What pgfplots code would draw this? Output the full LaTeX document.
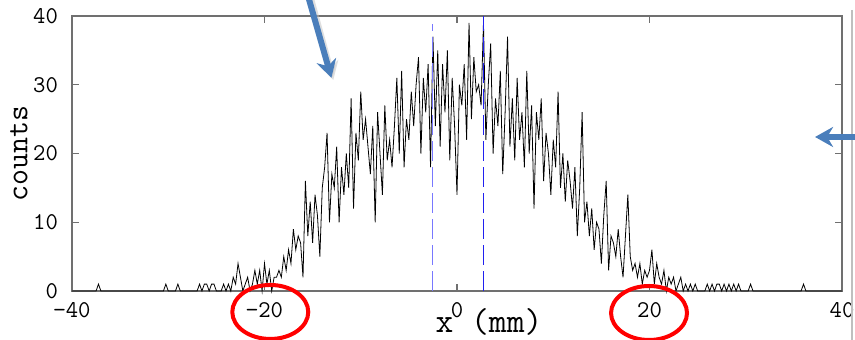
\documentclass[border=0pt]{standalone}
\usepackage{pgfplots}
\pgfplotsset{compat=1.18}
\usetikzlibrary{arrows.meta}
\definecolor{axgray}{HTML}{707070}
\definecolor{dashA}{HTML}{7878FF}
\definecolor{dashB}{HTML}{2020F0}
\definecolor{arrowblue}{HTML}{4A7EBB}
\begin{document}
\begin{tikzpicture}
\begin{axis}[
  name=ax, at={(0,0)}, anchor=south west,
  scale only axis, width=385pt, height=137.5pt,
  xmin=-40, xmax=40, ymin=0, ymax=40,
  xtick={-40,-20,0,20,40},
  xticklabels={−40,−20,0,20,40},
  ytick={0,10,20,30,40},
  yticklabels={0,10,20,30,40},
  tick align=inside, major tick length=3.5pt,
  axis line style={axgray, line width=0.6pt},
  every tick/.style={axgray, line width=0.6pt},
  tick label style={font=\large\ttfamily},
  xticklabel style={yshift=-2pt},
  yticklabel style={xshift=-3.5pt},
  clip=false,
]
\addplot[black, line width=0.4pt] coordinates {
(-40,0) (-37.5,0) (-37.25,1) (-37,0) (-30.5,0) (-30.25,1) (-30,0) (-29.25,0) (-29,1) (-28.75,0)
(-27,0) (-26.75,1) (-26.5,0) (-26.25,1) (-26,1) (-25.75,0) (-25.5,1) (-25.25,1) (-25,0) (-24.5,0) (-24.25,1)
(-24.00,0) (-23.75,1) (-23.50,0) (-23.25,2) (-23.00,1) (-22.75,4) (-22.50,2) (-22.25,0) (-22.00,1) (-21.75,2)
(-21.50,0) (-21.25,1) (-21.00,3) (-20.75,1) (-20.50,3) (-20.25,0) (-20.00,4) (-19.75,1) (-19.50,3) (-19.25,0)
(-19.00,2) (-18.75,2) (-18.50,3) (-18.25,2) (-18.00,5) (-17.75,3) (-17.50,6) (-17.25,4) (-17.00,9) (-16.75,6)
(-16.50,8) (-16.25,7) (-16.00,2) (-15.75,16) (-15.50,8) (-15.25,13) (-15.00,7) (-14.75,14) (-14.50,11) (-14.25,5)
(-14.00,15) (-13.75,18) (-13.50,23) (-13.25,10) (-13.00,17) (-12.75,15) (-12.50,21) (-12.25,10) (-12.00,18) (-11.75,14)
(-11.50,20) (-11.25,15) (-11.00,28) (-10.75,12) (-10.50,23) (-10.25,19) (-10.00,29) (-9.75,22) (-9.50,25) (-9.25,21)
(-9.00,17) (-8.75,24) (-8.50,10) (-8.25,26) (-8.00,20) (-7.75,14) (-7.50,27) (-7.25,19) (-7.00,22) (-6.75,18)
(-6.50,24) (-6.25,31) (-6.00,20) (-5.75,32) (-5.50,18) (-5.25,25) (-5.00,22) (-4.75,29) (-4.50,24) (-4.25,30)
(-4.00,34) (-3.75,20) (-3.50,31) (-3.25,26) (-3.00,33) (-2.75,18) (-2.50,37) (-2.25,24) (-2.00,35) (-1.75,21)
(-1.50,33) (-1.25,26) (-1.00,35) (-0.75,19) (-0.50,31) (-0.25,24) (0.00,14) (0.25,30) (0.50,27) (0.75,33)
(1.00,22) (1.25,39) (1.50,25) (1.75,34) (2.00,29) (2.25,30) (2.50,27) (2.75,39) (3.00,22) (3.25,30)
(3.50,36) (3.75,20) (4.00,28) (4.25,24) (4.50,32) (4.75,17) (5.00,26) (5.25,37) (5.50,21) (5.75,28)
(6.00,19) (6.25,31) (6.50,22) (6.75,26) (7.00,18) (7.25,32) (7.50,20) (7.75,27) (8.00,12) (8.25,26)
(8.50,22) (8.75,28) (9.00,16) (9.25,23) (9.50,20) (9.75,14) (10.00,22) (10.25,18) (10.50,29) (10.75,15)
(11.00,20) (11.25,13) (11.50,19) (11.75,16) (12.00,12) (12.25,18) (12.50,8) (12.75,15) (13.00,26) (13.25,10)
(13.50,13) (13.75,8) (14.00,12) (14.25,6) (14.50,10) (14.75,9) (15.00,4) (15.25,11) (15.50,16) (15.75,3)
(16.00,8) (16.25,7) (16.50,5) (16.75,9) (17.00,5) (17.25,2) (17.50,8) (17.75,14) (18.00,5) (18.25,3)
(18.50,4) (18.75,2) (19.00,4) (19.25,1) (19.50,3) (19.75,2) (20.00,3) (20.25,6) (20.50,1) (20.75,4)
(21.00,2) (21.25,1) (21.50,3) (21.75,0) (22.00,2) (22.25,1) (22.50,2) (22.75,0) (23.00,1) (23.25,2)
(23.50,0) (23.75,1) (24.00,0) (24.25,1) (24.50,0) (24.75,1) (25.00,0)
(25.75,0) (26,1) (26.25,0) (26.5,1) (26.75,0) (27,1) (27.25,1) (27.5,0) (27.75,1) (28,0) (28.25,1) (28.5,0)
(28.75,1) (29,0) (29.25,1) (29.5,0) (30.25,0) (30.5,1) (30.75,0) (35.75,0) (36,1) (36.25,0) (40,0)
};
\addplot[dashA, line width=0.6pt, dash pattern=on 10pt off 3pt] coordinates {(-2.55,0) (-2.55,38.8)};
\addplot[dashB, line width=0.6pt, dash pattern=on 10pt off 3pt] coordinates {(2.77,0) (2.77,40)};
% annotations
\draw[gray!50, line width=0.8pt] (axis cs:41.04,40.9) -- (axis cs:41.04,-8);
\draw[red, line width=2pt] (axis cs:-19.4,-3.05) ellipse [x radius=19pt, y radius=13.5pt];
\draw[red, line width=2pt] (axis cs:19.95,-3.2) ellipse [x radius=19pt, y radius=13.5pt];
\draw[black!25, line width=3pt, -{Stealth[length=9pt,width=10pt]}, opacity=0.5] (axis cs:-15.45,44) -- (axis cs:-12.85,30.7);
\draw[arrowblue, line width=3pt, -{Stealth[length=9pt,width=10pt]}] (axis cs:-15.7,44) -- (axis cs:-13.05,31.0);
\draw[arrowblue, line width=3pt, -{Stealth[length=9pt,width=10pt]}] (axis cs:43,22.4) -- (axis cs:37.2,22.4);
\end{axis}
\node[font=\LARGE\ttfamily, anchor=center, inner sep=0pt] at ([xshift=16pt, yshift=-15.5pt]ax.south) {x (mm)};
\node[font=\fontsize{15.5}{18}\selectfont\ttfamily, rotate=90, anchor=center] at ([xshift=-26.5pt]ax.west) {counts};
\pgfresetboundingbox
\path[use as bounding box] ([xshift=-36pt,yshift=-24.5pt]ax.south west) rectangle ([xshift=6.5pt,yshift=8pt]ax.north east);
\end{tikzpicture}
\end{document}
